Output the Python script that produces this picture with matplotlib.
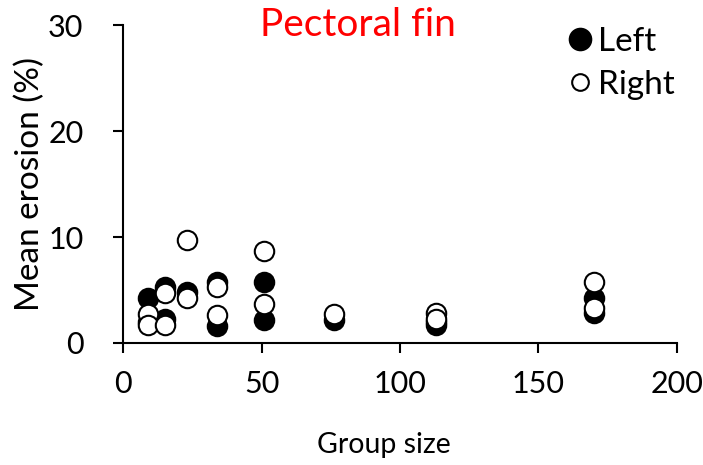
import matplotlib
matplotlib.use("Agg")
import matplotlib.pyplot as plt
from matplotlib.lines import Line2D

plt.rcParams['font.family'] = ['Lato', 'DejaVu Sans']

# Data (group size vs mean erosion %)
left_x = [9, 9, 15, 15, 23, 34, 34, 51, 51, 76, 113, 113, 170, 170]
left_y = [4.2, 2.0, 5.3, 2.3, 4.8, 5.8, 1.6, 5.8, 2.2, 2.2, 1.7, 2.0, 4.2, 2.8]
right_x = [9, 9, 15, 15, 23, 23, 34, 34, 51, 51, 76, 113, 113, 170, 170]
right_y = [2.7, 1.7, 4.7, 1.7, 4.2, 9.7, 5.3, 2.6, 8.7, 3.7, 2.7, 2.8, 2.3, 5.8, 3.3]
xticks = [0, 50, 100, 150, 200]
yticks = [0, 10, 20, 30]

fig = plt.figure(figsize=(7.03, 4.65), dpi=100)
ax = fig.add_axes([0.175, 0.2624, 0.788, 0.6836])

ax.plot(left_x, left_y, 'o', ms=14, mfc='black', mec='black', mew=1.5, ls='none', zorder=3)
ax.plot(right_x, right_y, 'o', ms=14, mfc='white', mec='black', mew=1.5, ls='none', zorder=4)

ax.set_xlim(0, 200)
ax.set_ylim(0, 30)
ax.set_xticks(xticks)
ax.set_yticks(yticks)
for s in ['top', 'right']:
    ax.spines[s].set_visible(False)
for s in ['left', 'bottom']:
    ax.spines[s].set_linewidth(1.5)
ax.tick_params(direction='out', length=7.5, width=1.5, labelsize=22)
ax.tick_params(axis='x', pad=12)
ax.tick_params(axis='y', pad=21)
ax.set_xlabel('Group size', fontsize=20.5)
ax.xaxis.set_label_coords(0.470, -0.28)
ax.set_ylabel('Mean erosion (%)', fontsize=24)
ax.yaxis.set_label_coords(-0.141, 0.5)

ax.text(0.424, 1.0, 'Pectoral fin', transform=ax.transAxes, color='red',
        fontsize=28, ha='center', va='center')

h1 = Line2D([], [], marker='o', ls='none', ms=15.5, mfc='black', mec='black', mew=1.5)
h2 = Line2D([], [], marker='o', ls='none', ms=12, mfc='white', mec='black', mew=1.5)
leg = ax.legend([h1, h2], ['Left', 'Right'], loc='upper right', bbox_to_anchor=(1.05, 1.09),
                frameon=False, fontsize=24, handletextpad=0.05, labelspacing=0.4,
                handlelength=1.0)

fig.savefig('out.png', dpi=100)
